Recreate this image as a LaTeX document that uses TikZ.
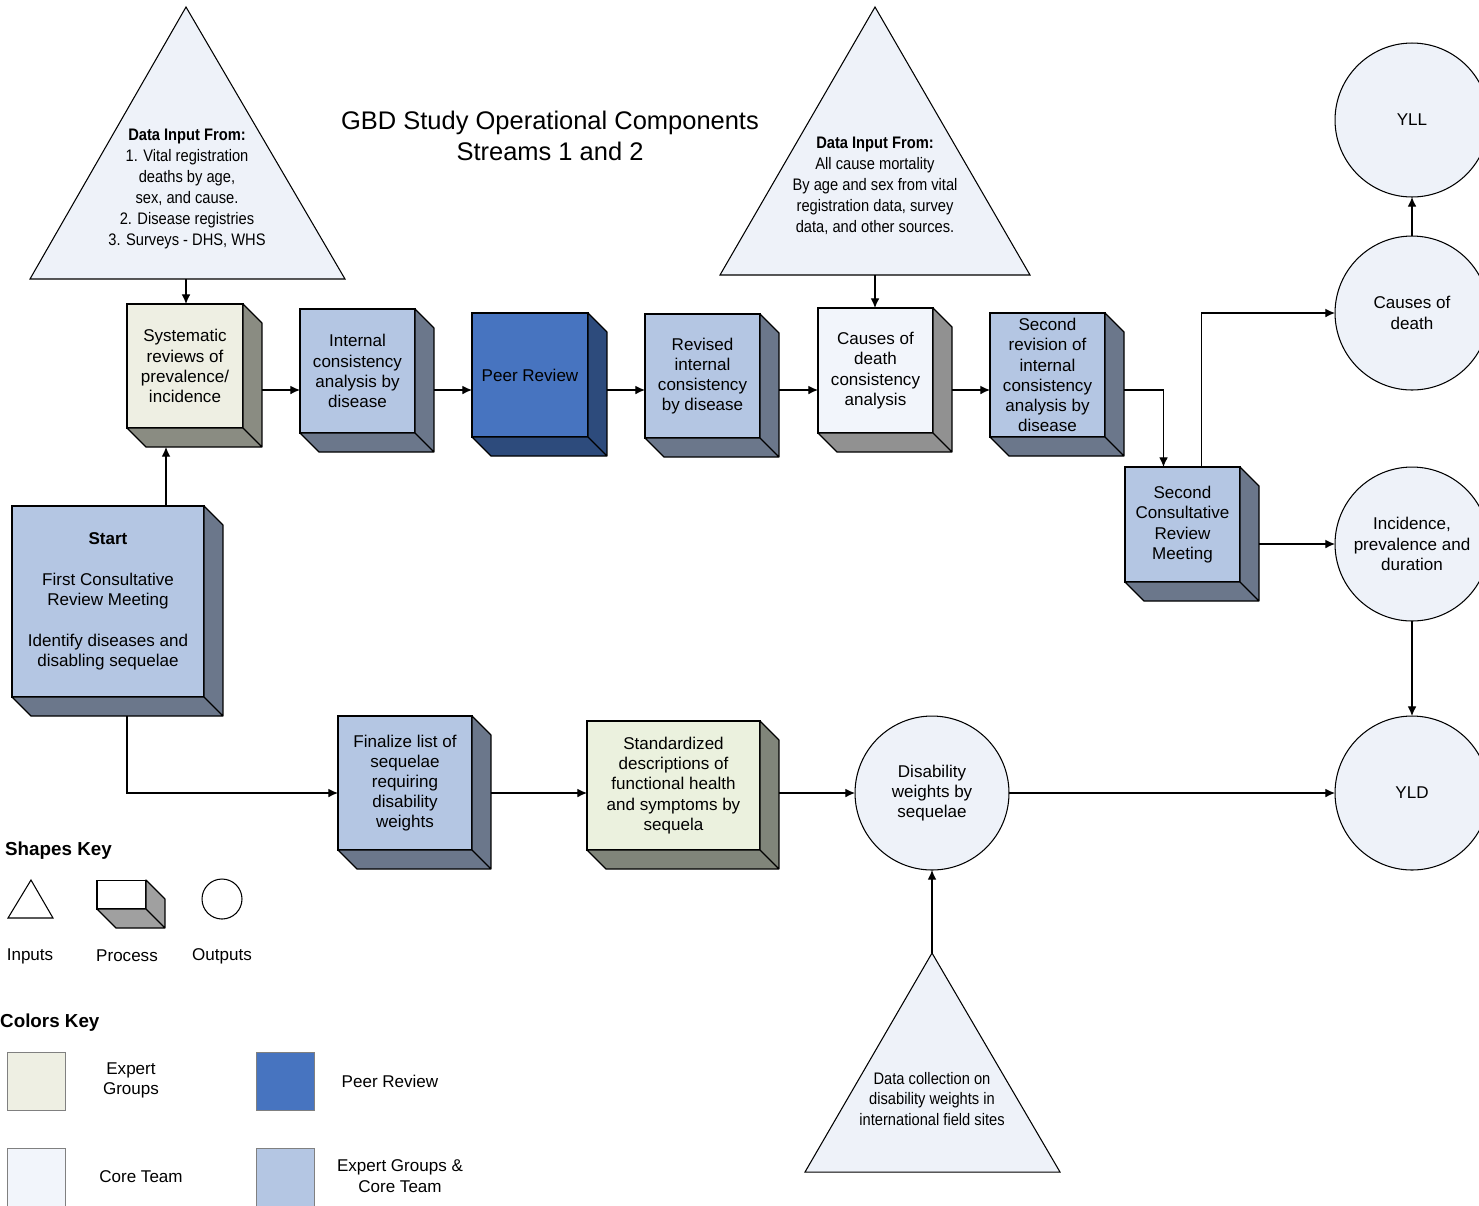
\documentclass[tikz,border=0pt]{standalone}
\usepackage{fontspec}
\setmainfont{Liberation Sans}
\newfontfamily\narrowsf[FakeStretch=0.88]{Liberation Sans}
\usetikzlibrary{arrows.meta}

\definecolor{expfront}{HTML}{EEEFE3}
\definecolor{expdark}{HTML}{8A8C82}
\definecolor{grnfront}{HTML}{EBF1DE}
\definecolor{grndark}{HTML}{80857A}
\definecolor{bothfront}{HTML}{B4C6E3}
\definecolor{bothdark}{HTML}{6B778B}
\definecolor{peerfront}{HTML}{4774C0}
\definecolor{peerdark}{HTML}{2D4B7C}
\definecolor{corefront}{HTML}{F2F5FB}
\definecolor{coredark}{HTML}{919191}
\definecolor{outfill}{HTML}{EEF2F9}
\definecolor{keydark}{HTML}{A0A0A0}

\begin{document}
\begin{tikzpicture}[x=0.02cm,y=-0.02cm,
    every node/.style={align=center,font=\fontsize{9.7}{11.5}\selectfont},
    box/.style={draw,line width=0.7pt,inner sep=0pt,outer sep=0pt},
    outp/.style={draw,circle,fill=outfill,line width=0.6pt,minimum size=3.08cm,inner sep=0pt,outer sep=0pt},
    inp/.style={draw,fill=outfill,line width=0.6pt},
    intext/.style={font=\narrowsf\fontsize{9.5}{11.9}\selectfont},
    arr/.style={-{Latex[length=5.5pt,width=5pt]},line width=0.7pt}]
  \useasboundingbox (0,0) rectangle (1479,1205);
  \def\d{19}
  \coordinate (rowA) at (0,390);
  \coordinate (rowB) at (0,793);
  % title
  \node[font=\fontsize{14.5}{17.6}\selectfont] (title) at (550,136)
      {GBD Study Operational Components\\Streams 1 and 2};
  % inputs
  \draw[inp] (186,7) -- (345,279) -- (30,279) -- cycle;
  \coordinate (t1) at (186,279);
  \node[intext] (t1txt) at (187,189) {\textbf{Data Input From:}\\1. Vital registration\\deaths by age,\\sex, and cause.\\2. Disease registries\\3. Surveys - DHS, WHS};
  \draw[inp] (875,7) -- (1030,275) -- (720,275) -- cycle;
  \coordinate (t2) at (875,275);
  \node[intext] (t2txt) at (875,186) {\textbf{Data Input From:}\\All cause mortality\\By age and sex from vital\\registration data, survey\\data, and other sources.};
  \draw[inp] (932,953) -- (1060,1172) -- (805,1172) -- cycle;
  \coordinate (t3) at (932,953);
  \node[intext] (t3txt) at (932,1099) {Data collection on\\disability weights in\\international field sites};
  % process boxes
  \node[box,fill=expfront,minimum width=2.32cm,minimum height=2.48cm] (sys) at (185,366)
      {Systematic\\reviews of\\prevalence/\\incidence};
  \node[box,fill=bothfront,minimum width=2.30cm,minimum height=2.48cm] (icon) at (357.5,371)
      {Internal\\consistency\\analysis by\\disease};
  \node[box,fill=peerfront,minimum width=2.32cm,minimum height=2.48cm] (peer) at (530,375)
      {Peer Review};
  \node[box,fill=bothfront,minimum width=2.30cm,minimum height=2.48cm] (rev) at (702.5,376)
      {Revised\\internal\\consistency\\by disease};
  \node[box,fill=corefront,minimum width=2.30cm,minimum height=2.50cm] (cod) at (875.5,370.5)
      {Causes of\\death\\consistency\\analysis};
  \node[box,fill=bothfront,minimum width=2.30cm,minimum height=2.48cm] (rev2) at (1047.5,375)
      {Second\\revision of\\internal\\consistency\\analysis by\\disease};
  \node[box,fill=bothfront,minimum width=2.30cm,minimum height=2.30cm] (crm2) at (1182.5,524.5)
      {Second\\Consultative\\Review\\Meeting};
  \node[box,fill=bothfront,minimum width=3.84cm,minimum height=3.82cm] (start) at (108,601.5)
      {\textbf{Start}\\[0.41cm]First Consultative\\Review Meeting\\[0.41cm]Identify diseases and\\disabling sequelae};
  \node[box,fill=bothfront,minimum width=2.68cm,minimum height=2.68cm] (fin) at (405,783)
      {Finalize list of\\sequelae\\requiring\\disability\\weights};
  \node[box,fill=grnfront,minimum width=3.46cm,minimum height=2.58cm] (std) at (673.5,785.5)
      {Standardized\\descriptions of\\functional health\\and symptoms by\\sequela};
  % outputs
  \node[outp] (yll) at (1412,120) {YLL};
  \node[outp] (cod2) at (1412,313) {Causes of\\death};
  \node[outp] (inc) at (1412,544) {Incidence,\\prevalence and\\duration};
  \node[outp] (yld) at (1412,793) {YLD};
  \node[outp] (dw) at (932,793) {Disability\\weights by\\sequelae};
  % shapes key
  \node[font=\bfseries\fontsize{10.7}{13}\selectfont,anchor=west] (shkey) at (-1,851) {Shapes Key};
  \draw[fill=white,line width=0.6pt] (31,880) -- (53,918) -- (8,918) -- cycle;
  \node[box,fill=white,line width=0.6pt,minimum width=0.98cm,minimum height=0.58cm] (keybox) at (121.5,894.5) {};
  \node[draw,circle,line width=0.6pt,minimum size=0.8cm,inner sep=0pt] (keycirc) at (222,899) {};
  \node (kin) at (30,956) {Inputs};
  \node (kproc) at (127,956) {Process};
  \node (kout) at (222,956) {Outputs};
  % 3d sides of the boxes
  \foreach \b/\col in {sys/expdark, icon/bothdark, peer/peerdark, rev/bothdark, cod/coredark,
      rev2/bothdark, crm2/bothdark, start/bothdark, fin/bothdark, std/grndark, keybox/keydark} {
    \draw[line width=0.7pt,fill=\col,line join=round] (\b.north east) -- ++(\d,\d)
      -- ([shift={(\d,\d)}]\b.south east) -- ([shift={(\d,\d)}]\b.south west)
      -- (\b.south west) -- (\b.south east) -- cycle
      (\b.south east) -- ++(\d,\d);
  }
  % colors key
  \node[font=\bfseries\fontsize{10.7}{13}\selectfont,anchor=west] (colkey) at (-6,1023) {Colors Key};
  \foreach \x/\y/\col/\nm in {36/1081/expfront/kexp, 285/1081/peerfront/kpeer,
      36/1177/corefront/kcore, 285/1177/bothfront/kboth} {
    \node[draw=gray,fill=\col,minimum size=1.16cm,inner sep=0pt] (\nm) at (\x,\y) {};
  }
  \node (lexp) at (131,1080) {Expert\\Groups};
  \node (lpeer) at (390,1081) {Peer Review};
  \node (lcore) at (141,1177) {Core Team};
  \node (lboth) at (400,1176) {Expert Groups \&\\Core Team};
  % connectors
  \draw[arr] (t1) -- (t1 |- sys.north);
  \draw[arr] (t2) -- (t2 |- cod.north);
  \draw[arr] (t3) -- (dw.south);
  \draw[arr] ([shift={(58,0)}]start.north) -- ([shift={(-\d,\d)}]sys.south);
  \draw[arr] (sys.east |- rowA) ++(\d,0) -- (icon.west |- rowA);
  \draw[arr] (icon.east |- rowA) ++(\d,0) -- (peer.west |- rowA);
  \draw[arr] (peer.east |- rowA) ++(\d,0) -- (rev.west |- rowA);
  \draw[arr] (rev.east |- rowA) ++(\d,0) -- (cod.west |- rowA);
  \draw[arr] (cod.east |- rowA) ++(\d,0) -- (rev2.west |- rowA);
  \draw[arr] (rev2.east |- rowA) ++(\d,0) -| ([shift={(-\d,0)}]crm2.north);
  \draw[arr] ([shift={(\d,0)}]crm2.north) |- (cod2.west);
  \draw[arr] (crm2.east |- inc.west) ++(\d,0) -- (inc.west);
  \draw[arr] (cod2.north) -- (yll.south);
  \draw[arr] (inc.south) -- (yld.north);
  \draw[arr] ([shift={(\d,\d)}]start.south) |- (fin.west |- rowB);
  \draw[arr] (fin.east |- rowB) ++(\d,0) -- (std.west |- rowB);
  \draw[arr] (std.east |- rowB) ++(\d,0) -- (dw.west);
  \draw[arr] (dw.east) -- (yld.west);
\end{tikzpicture}
\end{document}
